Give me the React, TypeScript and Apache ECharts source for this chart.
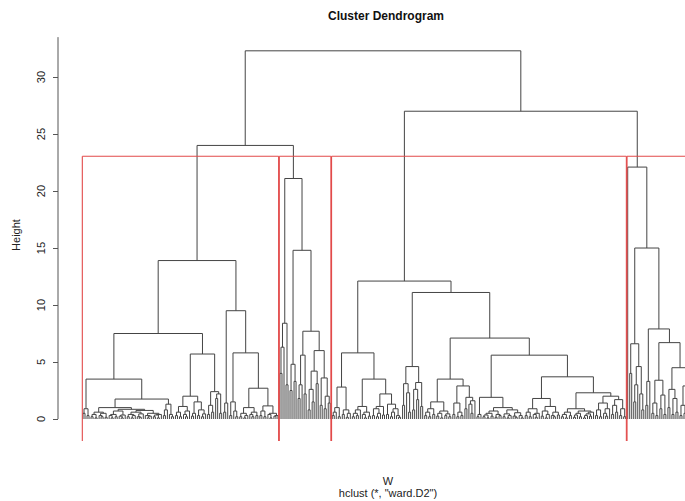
import React, { useEffect, useRef } from 'react';
import * as echarts from 'echarts';

const TITLE = 'Cluster Dendrogram';
const Y_NAME = 'Height';
const X_NAME = 'W';
const SUB_NAME = 'hclust (*, "ward.D2")';
const Y_TICKS = [0, 5, 10, 15, 20, 25, 30];

// Merge height between each pair of adjacent leaves (in dendrogram order), per cluster
const gapsC1 = [
  0.5, 0.9, 0.3,
  3.5,
  0.2, 0.4, 0.1, 0.6, 0.3, 0.2, 0.5, 0.15, 1.0, 0.3, 0.1, 0.4, 0.2, 0.7, 0.25, 0.1, 0.35, 0.85,
  0.2, 0.4, 0.1, 0.3, 0.6, 0.2, 0.15, 0.45, 0.75, 0.3, 0.1, 0.25, 0.5, 0.2, 0.35, 0.1, 0.4,
  1.75,
  0.3, 0.8, 1.3, 0.4, 0.2,
  7.5,
  0.3, 0.6, 0.2, 1.1, 0.4, 0.2, 0.7, 2.0, 0.25, 0.5, 1.5, 0.3, 0.8, 0.2, 0.45,
  5.7,
  0.4, 1.2, 0.6, 2.4, 1.8, 2.2, 0.5,
  13.9,
  0.6, 1.4,
  9.5,
  0.3, 1.5, 0.7, 0.2,
  5.8,
  0.2, 0.5, 0.1, 0.3, 1.0, 0.4, 0.2, 0.6, 0.3, 2.7, 0.3, 0.7, 0.2, 1.15, 0.4, 0.1, 0.5, 0.25, 0.3,
];
const gapsC2 = [
  4.0, 6.3, 8.4, 3.0,
  21.1,
  2.5, 4.8, 3.3,
  14.8,
  1.8, 3.0, 5.6, 2.2,
  7.7,
  0.8, 2.6, 1.5, 4.2, 3.1, 6.0, 1.2, 3.6, 0.9, 2.0, 1.4,
];
const gapsC3 = [
  0.3, 0.6, 1.0, 0.2, 2.8, 0.4, 0.8, 0.15, 0.5,
  5.8,
  0.2, 0.5, 0.3, 0.8, 1.1, 0.4, 0.1, 0.6, 0.25,
  3.5,
  0.3, 0.9, 0.2, 0.5, 1.1, 0.35, 2.2, 0.4, 1.3, 0.2, 0.6, 0.9, 0.3, 0.15,
  12.1,
  1.2, 3.1, 2.3, 0.6, 4.6, 0.8, 2.6, 1.7, 3.2, 1.1,
  11.1,
  0.3, 0.6, 0.2, 0.9, 0.4, 1.5, 0.25, 0.5, 0.1, 0.7, 0.3, 0.45, 0.2,
  3.5,
  0.4, 1.4, 0.2, 0.6, 0.3, 2.9, 0.9, 1.9, 1.3, 0.5, 1.6,
  7.1,
  0.2, 0.4,
  1.9,
  0.2, 0.35, 0.1, 0.5, 0.25, 0.7, 0.15, 0.4, 0.3, 1.0, 0.2, 0.45, 0.1, 0.3, 0.8, 0.25, 0.15, 0.55, 0.3, 0.1,
  5.6,
  0.3, 0.6, 0.2, 0.9, 0.4, 0.15, 0.5, 1.8, 0.25, 0.7, 0.1, 0.4, 1.1, 0.3, 0.2, 0.6, 0.35,
  3.7,
  0.2, 0.4, 0.1, 0.6, 0.3, 0.9, 0.15, 0.35, 0.5, 0.2, 0.7, 0.1, 0.3, 0.45, 0.25, 0.6,
  2.3,
  0.3, 0.8, 0.2, 1.4, 0.5, 0.25, 0.9, 2.0, 0.4, 1.2, 0.6, 1.7, 0.3, 0.9, 0.2,
];
const gapsC4 = [
  22.1,
  4.0,
  6.6,
  1.5, 3.0, 4.6, 2.2, 0.8,
  15.0,
  1.2, 3.3,
  7.9,
  0.5, 1.4, 0.3, 3.4, 0.9, 2.1, 0.4,
  6.7,
  1.0, 2.6, 0.4, 1.8, 0.6, 4.5, 0.3, 1.2, 0.5, 2.9, 0.7, 0.2, 1.5, 0.4, 0.9, 0.3,
];
const JOIN_C1_C2 = 24.0;
const JOIN_ROOT = 32.3;
const JOIN_C3_C4 = 27.0;
const K_CLUSTERS = 4;

type TreeNode = { x: number; h: number; lo: number; hi: number; l?: TreeNode; r?: TreeNode };

function build(g: number[], lo: number, hi: number): TreeNode {
  if (lo === hi) return { x: lo, h: 0, lo, hi };
  let k = lo;
  for (let i = lo; i < hi; i++) if (g[i] > g[k]) k = i;
  const l = build(g, lo, k);
  const r = build(g, k + 1, hi);
  return { x: (l.x + r.x) / 2, h: g[k], lo, hi, l, r };
}

// layout constants (pixels)
const LEFT = 58;
const FIRST_LEAF_PX = 83;
const LEAF_STEP = 2.01;
const W = 685;
const Y_MIN = -1.93;
const Y_MAX = 33.6;
const TICK_LEN = 5;

export default function App() {
  const ref = useRef<HTMLDivElement>(null);
  useEffect(() => {
    document.body.style.margin = '0';
    if (!ref.current) return;
    const chart = echarts.init(ref.current, undefined, { renderer: 'svg' });

    const gaps = [...gapsC1, JOIN_C1_C2, ...gapsC2, JOIN_ROOT, ...gapsC3, JOIN_C3_C4, ...gapsC4];
    const n = gaps.length + 1;
    const root = build(gaps, 0, n - 1);

    const segs: number[][] = [];
    const walk = (nd: TreeNode) => {
      if (!nd.l || !nd.r) return;
      segs.push([nd.l.x, nd.l.h, nd.l.x, nd.h]);
      segs.push([nd.r.x, nd.r.h, nd.r.x, nd.h]);
      segs.push([nd.l.x, nd.h, nd.r.x, nd.h]);
      walk(nd.l);
      walk(nd.r);
    };
    walk(root);

    const sorted = [...gaps].sort((a, b) => b - a);
    const cut = (sorted[K_CLUSTERS - 2] + sorted[K_CLUSTERS - 1]) / 2;
    const clusters: TreeNode[] = [];
    const find = (nd: TreeNode) => {
      if (nd.h < cut || !nd.l || !nd.r) clusters.push(nd);
      else { find(nd.l); find(nd.r); }
    };
    find(root);
    const redSegs: number[][] = [];
    clusters.forEach((c) => {
      const a = c.lo - 0.34;
      const b = c.hi + 0.33;
      redSegs.push([a, Y_MIN, a, cut]);
      redSegs.push([b, Y_MIN, b, cut]);
      redSegs.push([a, cut, b, cut]);
    });

    const xMin = -(FIRST_LEAF_PX - LEFT) / LEAF_STEP;
    const gridW = W - LEFT;
    const xMax = xMin + gridW / LEAF_STEP;

    const lineRender = (color: string, width: number) => (params: any, api: any) => {
      const p1 = api.coord([api.value(0), api.value(1)]);
      const p2 = api.coord([api.value(2), api.value(3)]);
      return {
        type: 'line',
        shape: { x1: p1[0], y1: p1[1], x2: p2[0], y2: p2[1] },
        style: { stroke: color, lineWidth: width },
      };
    };

    const tickRender = (params: any, api: any) => {
      const p = api.coord([api.value(0), api.value(1)]);
      return {
        type: 'line',
        shape: { x1: p[0] - TICK_LEN, y1: Math.round(p[1]) + 0.5, x2: p[0], y2: Math.round(p[1]) + 0.5 },
        style: { stroke: '#555', lineWidth: 1 },
      };
    };

    const font = '"Liberation Sans", Arial, sans-serif';

    chart.setOption({
      animation: false,
      grid: { left: LEFT, right: 0, top: 36, bottom: 60 },
      xAxis: { type: 'value', min: xMin, max: xMax, show: false },
      yAxis: {
        type: 'value',
        min: Y_MIN,
        max: Y_MAX,
        axisLine: { show: false, onZero: false },
        splitLine: { show: false },
        axisTick: { show: false },
        axisLabel: {
          rotate: 90,
          margin: 12,
          fontSize: 11,
          color: '#222',
          fontFamily: font,
          customValues: Y_TICKS,
        },
      },
      series: [
        {
          type: 'custom',
          renderItem: lineRender('#555', 1),
          data: [[xMin, 0, xMin, 33.5]],
          encode: { x: [0, 2], y: [1, 3] },
          silent: true,
        },
        {
          type: 'custom',
          renderItem: tickRender,
          data: Y_TICKS.map((v) => [xMin, v]),
          encode: { x: 0, y: 1 },
          silent: true,
        },
        {
          type: 'custom',
          renderItem: lineRender('#444', 1),
          data: segs,
          encode: { x: [0, 2], y: [1, 3] },
          silent: true,
        },
        {
          type: 'custom',
          renderItem: lineRender('#e24a4a', 1.1),
          data: redSegs,
          encode: { x: [0, 2], y: [1, 3] },
          silent: true,
        },
      ],
      graphic: [
        {
          type: 'text', x: 386, y: 16,
          style: { text: TITLE, font: `bold 12px ${font}`, fill: '#111', align: 'center', verticalAlign: 'middle' },
        },
        {
          type: 'text', x: 16, y: 235, rotation: Math.PI / 2,
          style: { text: Y_NAME, font: `11px ${font}`, fill: '#222', align: 'center', verticalAlign: 'middle' },
        },
        {
          type: 'text', x: 388, y: 481,
          style: { text: X_NAME, font: `11px ${font}`, fill: '#222', align: 'center', verticalAlign: 'middle' },
        },
        {
          type: 'text', x: 388, y: 493,
          style: { text: SUB_NAME, font: `11px ${font}`, fill: '#222', align: 'center', verticalAlign: 'middle' },
        },
      ],
    });
    return () => chart.dispose();
  }, []);
  return (
    <div
      ref={ref}
      style={{ position: 'fixed', left: 0, top: 0, width: 685, height: 501, overflow: 'hidden', background: '#fff' }}
    />
  );
}
